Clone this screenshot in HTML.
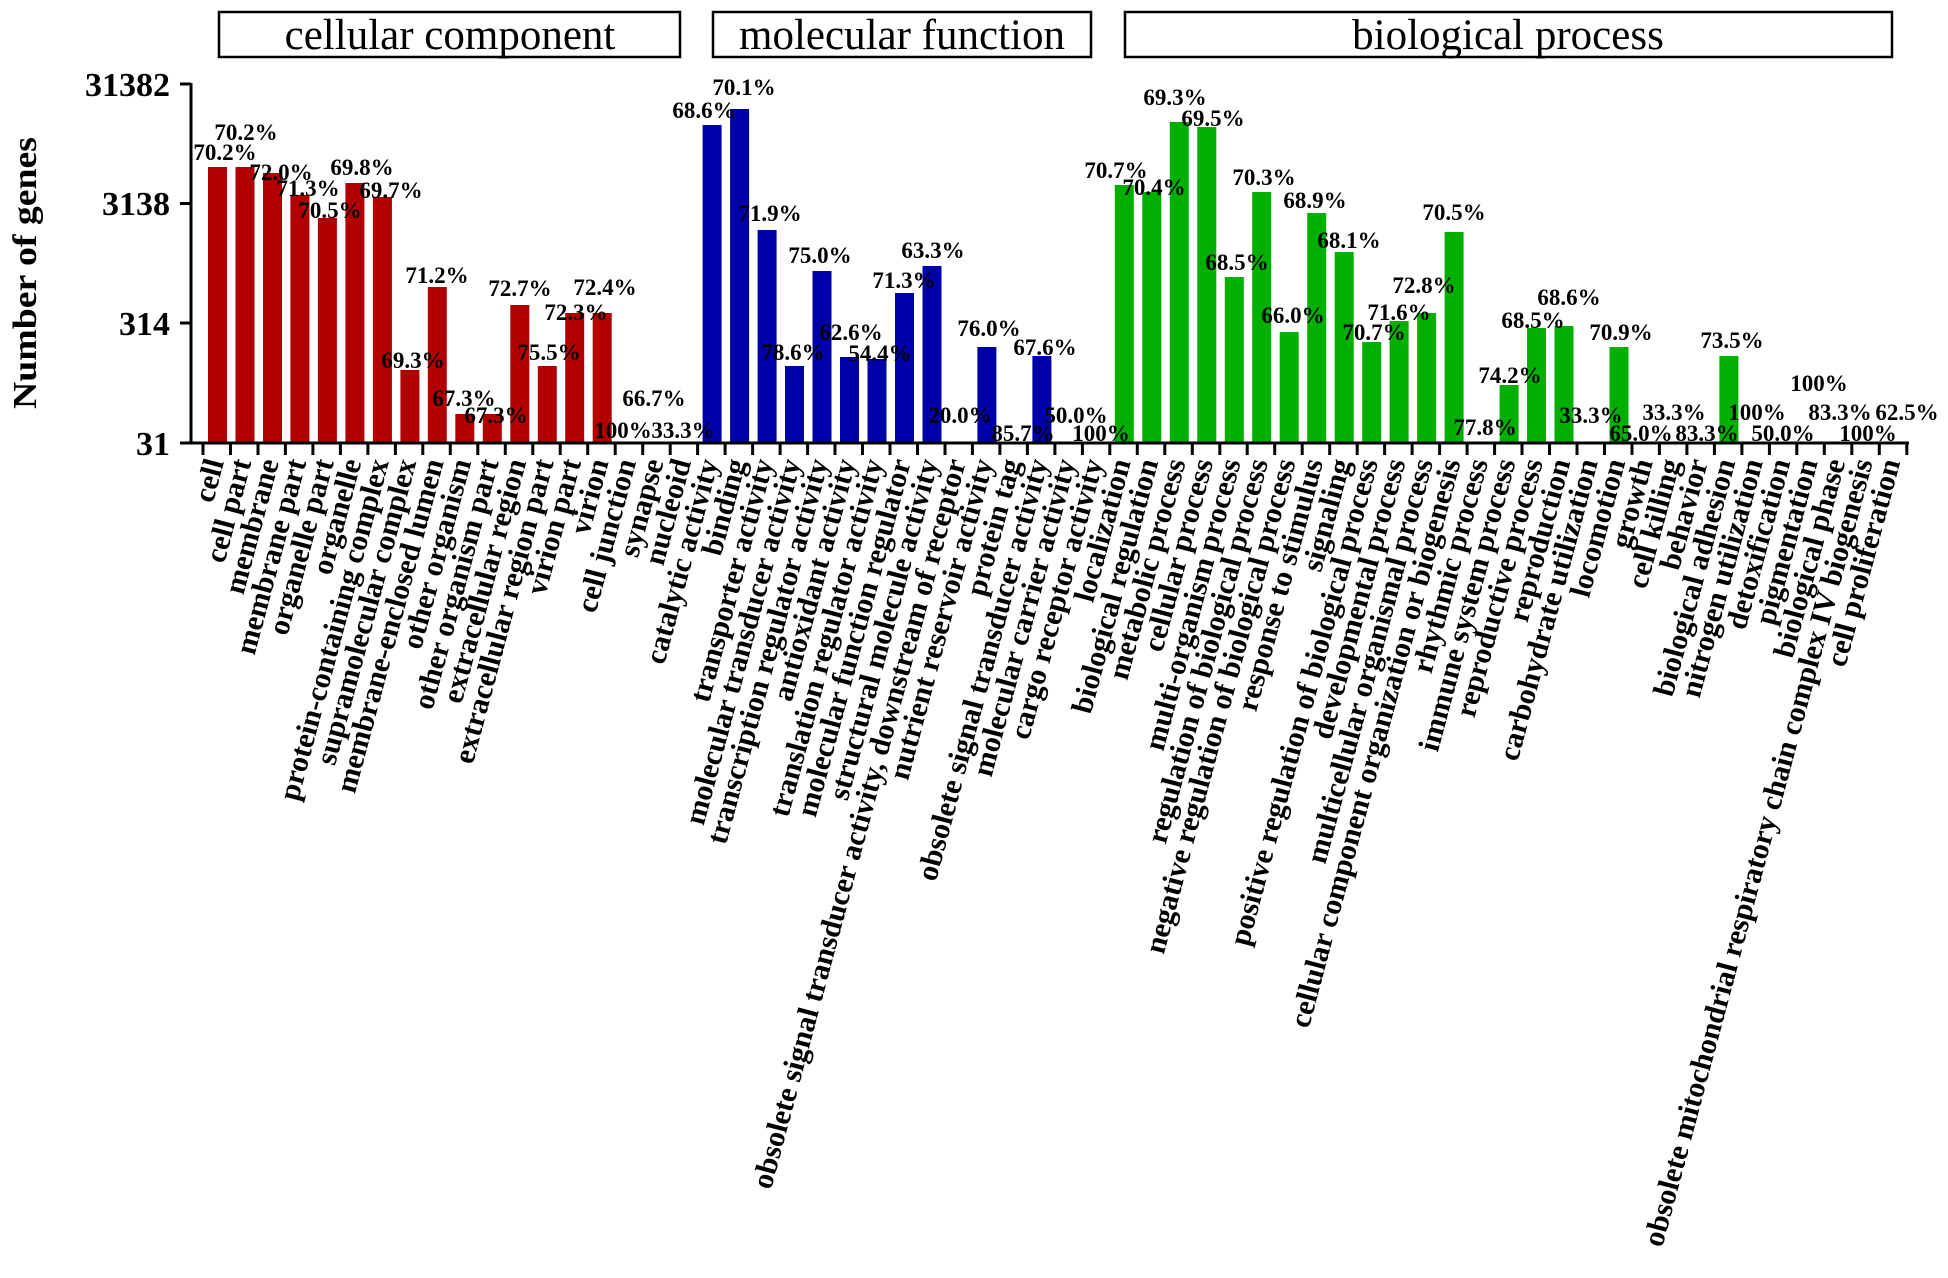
<!DOCTYPE html>
<html><head><meta charset="utf-8"><style>
html,body{margin:0;padding:0;background:#fff;}
svg{display:block;font-family:"Liberation Serif",serif;}
.p{font-size:23px;font-weight:bold;text-anchor:middle;}
.xl{font-size:30px;font-weight:bold;text-anchor:end;}
.yt{font-size:34px;font-weight:bold;text-anchor:end;}
.hd{font-size:43px;text-anchor:middle;}
</style></head><body>
<svg width="1948" height="1278" viewBox="0 0 1948 1278" xmlns="http://www.w3.org/2000/svg">
<rect x="219" y="12" width="461" height="45" fill="none" stroke="#000" stroke-width="2.5"/>
<text class="hd" x="450" y="49">cellular component</text>
<rect x="713" y="12" width="378" height="45" fill="none" stroke="#000" stroke-width="2.5"/>
<text class="hd" x="902" y="49">molecular function</text>
<rect x="1125" y="12" width="767" height="45" fill="none" stroke="#000" stroke-width="2.5"/>
<text class="hd" x="1508" y="49">biological process</text>

<text transform="translate(36,273) rotate(-90)" font-size="34" font-weight="bold" text-anchor="middle" textLength="272" lengthAdjust="spacingAndGlyphs">Number of genes</text>

<g fill="#b20000">
<rect x="208" y="167" width="19" height="276"/>
<rect x="235.5" y="167" width="19" height="276"/>
<rect x="263" y="173" width="19" height="270"/>
<rect x="290.4" y="195" width="19" height="248"/>
<rect x="317.9" y="218" width="19" height="225"/>
<rect x="345.4" y="183" width="19" height="260"/>
<rect x="372.9" y="197" width="19" height="246"/>
<rect x="400.4" y="370" width="19" height="73"/>
<rect x="427.8" y="287" width="19" height="156"/>
<rect x="455.3" y="414" width="19" height="29"/>
<rect x="482.8" y="414" width="19" height="29"/>
<rect x="510.3" y="305" width="19" height="138"/>
<rect x="537.8" y="366" width="19" height="77"/>
<rect x="565.2" y="313" width="19" height="130"/>
<rect x="592.7" y="313" width="19" height="130"/>
</g>
<g fill="#0000a8">
<rect x="702.6" y="125" width="19" height="318"/>
<rect x="730.1" y="109" width="19" height="334"/>
<rect x="757.6" y="230" width="19" height="213"/>
<rect x="785" y="366" width="19" height="77"/>
<rect x="812.5" y="271" width="19" height="172"/>
<rect x="840" y="357" width="19" height="86"/>
<rect x="867.5" y="359" width="19" height="84"/>
<rect x="895" y="293" width="19" height="150"/>
<rect x="922.5" y="266" width="19" height="177"/>
<rect x="977.4" y="347" width="19" height="96"/>
<rect x="1032.4" y="356" width="19" height="87"/>
</g>
<g fill="#00b000">
<rect x="1114.8" y="185" width="19" height="258"/>
<rect x="1142.3" y="192" width="19" height="251"/>
<rect x="1169.8" y="122" width="19" height="321"/>
<rect x="1197.3" y="127" width="19" height="316"/>
<rect x="1224.8" y="277" width="19" height="166"/>
<rect x="1252.2" y="192" width="19" height="251"/>
<rect x="1279.7" y="332" width="19" height="111"/>
<rect x="1307.2" y="213" width="19" height="230"/>
<rect x="1334.7" y="252" width="19" height="191"/>
<rect x="1362.2" y="342" width="19" height="101"/>
<rect x="1389.6" y="321" width="19" height="122"/>
<rect x="1417.1" y="313" width="19" height="130"/>
<rect x="1444.6" y="232" width="19" height="211"/>
<rect x="1499.6" y="385" width="19" height="58"/>
<rect x="1527" y="328" width="19" height="115"/>
<rect x="1554.5" y="326" width="19" height="117"/>
<rect x="1609.5" y="347" width="19" height="96"/>
<rect x="1719.4" y="356" width="19" height="87"/>
</g>

<g stroke="#000" stroke-width="3" fill="none">
<line x1="191" y1="83" x2="191" y2="444"/>
<line x1="189.5" y1="443" x2="1909" y2="443"/>
<line x1="180" y1="84" x2="191" y2="84"/>
<line x1="180" y1="203.5" x2="191" y2="203.5"/>
<line x1="180" y1="323" x2="191" y2="323"/>
<line x1="180" y1="443" x2="191" y2="443"/>
</g>
<g stroke="#000" stroke-width="3">
<line x1="203" y1="443" x2="203" y2="455"/><line x1="230.5" y1="443" x2="230.5" y2="455"/><line x1="258" y1="443" x2="258" y2="455"/><line x1="285.4" y1="443" x2="285.4" y2="455"/><line x1="312.9" y1="443" x2="312.9" y2="455"/><line x1="340.4" y1="443" x2="340.4" y2="455"/><line x1="367.9" y1="443" x2="367.9" y2="455"/><line x1="395.4" y1="443" x2="395.4" y2="455"/><line x1="422.8" y1="443" x2="422.8" y2="455"/><line x1="450.3" y1="443" x2="450.3" y2="455"/><line x1="477.8" y1="443" x2="477.8" y2="455"/><line x1="505.3" y1="443" x2="505.3" y2="455"/><line x1="532.8" y1="443" x2="532.8" y2="455"/><line x1="560.2" y1="443" x2="560.2" y2="455"/><line x1="587.7" y1="443" x2="587.7" y2="455"/><line x1="615.2" y1="443" x2="615.2" y2="455"/><line x1="642.7" y1="443" x2="642.7" y2="455"/><line x1="670.2" y1="443" x2="670.2" y2="455"/><line x1="697.6" y1="443" x2="697.6" y2="455"/><line x1="725.1" y1="443" x2="725.1" y2="455"/><line x1="752.6" y1="443" x2="752.6" y2="455"/><line x1="780.1" y1="443" x2="780.1" y2="455"/><line x1="807.6" y1="443" x2="807.6" y2="455"/><line x1="835" y1="443" x2="835" y2="455"/><line x1="862.5" y1="443" x2="862.5" y2="455"/><line x1="890" y1="443" x2="890" y2="455"/><line x1="917.5" y1="443" x2="917.5" y2="455"/><line x1="945" y1="443" x2="945" y2="455"/><line x1="972.4" y1="443" x2="972.4" y2="455"/><line x1="999.9" y1="443" x2="999.9" y2="455"/><line x1="1027.4" y1="443" x2="1027.4" y2="455"/><line x1="1054.9" y1="443" x2="1054.9" y2="455"/><line x1="1082.4" y1="443" x2="1082.4" y2="455"/><line x1="1109.8" y1="443" x2="1109.8" y2="455"/><line x1="1137.3" y1="443" x2="1137.3" y2="455"/><line x1="1164.8" y1="443" x2="1164.8" y2="455"/><line x1="1192.3" y1="443" x2="1192.3" y2="455"/><line x1="1219.8" y1="443" x2="1219.8" y2="455"/><line x1="1247.2" y1="443" x2="1247.2" y2="455"/><line x1="1274.7" y1="443" x2="1274.7" y2="455"/><line x1="1302.2" y1="443" x2="1302.2" y2="455"/><line x1="1329.7" y1="443" x2="1329.7" y2="455"/><line x1="1357.2" y1="443" x2="1357.2" y2="455"/><line x1="1384.6" y1="443" x2="1384.6" y2="455"/><line x1="1412.1" y1="443" x2="1412.1" y2="455"/><line x1="1439.6" y1="443" x2="1439.6" y2="455"/><line x1="1467.1" y1="443" x2="1467.1" y2="455"/><line x1="1494.6" y1="443" x2="1494.6" y2="455"/><line x1="1522" y1="443" x2="1522" y2="455"/><line x1="1549.5" y1="443" x2="1549.5" y2="455"/><line x1="1577" y1="443" x2="1577" y2="455"/><line x1="1604.5" y1="443" x2="1604.5" y2="455"/><line x1="1632" y1="443" x2="1632" y2="455"/><line x1="1659.4" y1="443" x2="1659.4" y2="455"/><line x1="1686.9" y1="443" x2="1686.9" y2="455"/><line x1="1714.4" y1="443" x2="1714.4" y2="455"/><line x1="1741.9" y1="443" x2="1741.9" y2="455"/><line x1="1769.4" y1="443" x2="1769.4" y2="455"/><line x1="1796.8" y1="443" x2="1796.8" y2="455"/><line x1="1824.3" y1="443" x2="1824.3" y2="455"/><line x1="1851.8" y1="443" x2="1851.8" y2="455"/><line x1="1879.3" y1="443" x2="1879.3" y2="455"/><line x1="1906.8" y1="443" x2="1906.8" y2="455"/>
</g>

<text class="yt" x="170" y="96">31382</text>
<text class="yt" x="170" y="215">3138</text>
<text class="yt" x="170" y="335">314</text>
<text class="yt" x="170" y="455">31</text>

<g class="p">
<text x="225" y="160">70.2%</text>
<text x="246" y="140">70.2%</text>
<text x="281" y="180">72.0%</text>
<text x="308" y="196">71.3%</text>
<text x="330" y="218">70.5%</text>
<text x="362" y="175">69.8%</text>
<text x="391" y="198">69.7%</text>
<text x="413" y="368">69.3%</text>
<text x="437" y="283">71.2%</text>
<text x="464" y="406">67.3%</text>
<text x="496" y="423">67.3%</text>
<text x="520" y="296">72.7%</text>
<text x="549" y="360">75.5%</text>
<text x="576" y="320">72.3%</text>
<text x="605" y="295">72.4%</text>
<text x="623" y="438">100%</text>
<text x="654" y="406">66.7%</text>
<text x="683" y="438">33.3%</text>
<text x="704" y="118">68.6%</text>
<text x="744" y="95">70.1%</text>
<text x="770" y="221">71.9%</text>
<text x="820" y="263">75.0%</text>
<text x="793" y="360">78.6%</text>
<text x="851" y="340">62.6%</text>
<text x="880" y="361">54.4%</text>
<text x="904" y="288">71.3%</text>
<text x="933" y="258">63.3%</text>
<text x="960" y="423">20.0%</text>
<text x="989" y="336">76.0%</text>
<text x="1023" y="441">85.7%</text>
<text x="1045" y="355">67.6%</text>
<text x="1076" y="423">50.0%</text>
<text x="1101" y="441">100%</text>
<text x="1116" y="178">70.7%</text>
<text x="1154" y="195">70.4%</text>
<text x="1175" y="105">69.3%</text>
<text x="1213" y="126">69.5%</text>
<text x="1264" y="185">70.3%</text>
<text x="1237" y="270">68.5%</text>
<text x="1293" y="323">66.0%</text>
<text x="1315" y="208">68.9%</text>
<text x="1349" y="248">68.1%</text>
<text x="1424" y="293">72.8%</text>
<text x="1399" y="320">71.6%</text>
<text x="1374" y="340">70.7%</text>
<text x="1454" y="220">70.5%</text>
<text x="1485" y="435">77.8%</text>
<text x="1510" y="383">74.2%</text>
<text x="1533" y="328">68.5%</text>
<text x="1569" y="305">68.6%</text>
<text x="1591" y="423">33.3%</text>
<text x="1621" y="340">70.9%</text>
<text x="1641" y="441">65.0%</text>
<text x="1674" y="420">33.3%</text>
<text x="1707" y="441">83.3%</text>
<text x="1732" y="348">73.5%</text>
<text x="1757" y="420">100%</text>
<text x="1783" y="441">50.0%</text>
<text x="1819" y="391">100%</text>
<text x="1840" y="420">83.3%</text>
<text x="1868" y="441">100%</text>
<text x="1907" y="420">62.5%</text>
</g>

<g class="xl">
<text transform="translate(224,462) rotate(-75)">cell</text>
<text transform="translate(251.5,462) rotate(-75)">cell part</text>
<text transform="translate(279,462) rotate(-75)">membrane</text>
<text transform="translate(306.4,462) rotate(-75)">membrane part</text>
<text transform="translate(333.9,462) rotate(-75)">organelle part</text>
<text transform="translate(361.4,462) rotate(-75)">organelle</text>
<text transform="translate(388.9,462) rotate(-75)">protein-containing complex</text>
<text transform="translate(416.4,462) rotate(-75)">supramolecular complex</text>
<text transform="translate(443.8,462) rotate(-75)">membrane-enclosed lumen</text>
<text transform="translate(471.3,462) rotate(-75)">other organism</text>
<text transform="translate(498.8,462) rotate(-75)">other organism part</text>
<text transform="translate(526.3,462) rotate(-75)">extracellular region</text>
<text transform="translate(553.8,462) rotate(-75)">extracellular region part</text>
<text transform="translate(581.2,462) rotate(-75)">virion part</text>
<text transform="translate(608.7,462) rotate(-75)">virion</text>
<text transform="translate(636.2,462) rotate(-75)">cell junction</text>
<text transform="translate(663.7,462) rotate(-75)">synapse</text>
<text transform="translate(691.2,462) rotate(-75)">nucleoid</text>
<text transform="translate(718.6,462) rotate(-75)">catalytic activity</text>
<text transform="translate(746.1,462) rotate(-75)">binding</text>
<text transform="translate(773.6,462) rotate(-75)">transporter activity</text>
<text transform="translate(801.1,462) rotate(-75)">molecular transducer activity</text>
<text transform="translate(828.6,462) rotate(-75)">transcription regulator activity</text>
<text transform="translate(856,462) rotate(-75)">antioxidant activity</text>
<text transform="translate(883.5,462) rotate(-75)">translation regulator activity</text>
<text transform="translate(911,462) rotate(-75)">molecular function regulator</text>
<text transform="translate(938.5,462) rotate(-75)">structural molecule activity</text>
<text transform="translate(966,462) rotate(-75)">obsolete signal transducer activity, downstream of receptor</text>
<text transform="translate(993.4,462) rotate(-75)">nutrient reservoir activity</text>
<text transform="translate(1020.9,462) rotate(-75)">protein tag</text>
<text transform="translate(1048.4,462) rotate(-75)">obsolete signal transducer activity</text>
<text transform="translate(1075.9,462) rotate(-75)">molecular carrier activity</text>
<text transform="translate(1103.4,462) rotate(-75)">cargo receptor activity</text>
<text transform="translate(1130.8,462) rotate(-75)">localization</text>
<text transform="translate(1158.3,462) rotate(-75)">biological regulation</text>
<text transform="translate(1185.8,462) rotate(-75)">metabolic process</text>
<text transform="translate(1213.3,462) rotate(-75)">cellular process</text>
<text transform="translate(1240.8,462) rotate(-75)">multi-organism process</text>
<text transform="translate(1268.2,462) rotate(-75)">regulation of biological process</text>
<text transform="translate(1295.7,462) rotate(-75)">negative regulation of biological process</text>
<text transform="translate(1323.2,462) rotate(-75)">response to stimulus</text>
<text transform="translate(1350.7,462) rotate(-75)">signaling</text>
<text transform="translate(1378.2,462) rotate(-75)">positive regulation of biological process</text>
<text transform="translate(1405.6,462) rotate(-75)">developmental process</text>
<text transform="translate(1433.1,462) rotate(-75)">multicellular organismal process</text>
<text transform="translate(1460.6,462) rotate(-75)">cellular component organization or biogenesis</text>
<text transform="translate(1488.1,462) rotate(-75)">rhythmic process</text>
<text transform="translate(1515.6,462) rotate(-75)">immune system process</text>
<text transform="translate(1543,462) rotate(-75)">reproductive process</text>
<text transform="translate(1570.5,462) rotate(-75)">reproduction</text>
<text transform="translate(1598,462) rotate(-75)">carbohydrate utilization</text>
<text transform="translate(1625.5,462) rotate(-75)">locomotion</text>
<text transform="translate(1653,462) rotate(-75)">growth</text>
<text transform="translate(1680.4,462) rotate(-75)">cell killing</text>
<text transform="translate(1707.9,462) rotate(-75)">behavior</text>
<text transform="translate(1735.4,462) rotate(-75)">biological adhesion</text>
<text transform="translate(1762.9,462) rotate(-75)">nitrogen utilization</text>
<text transform="translate(1790.4,462) rotate(-75)">detoxification</text>
<text transform="translate(1817.8,462) rotate(-75)">pigmentation</text>
<text transform="translate(1845.3,462) rotate(-75)">biological phase</text>
<text transform="translate(1872.8,462) rotate(-75)">obsolete mitochondrial respiratory chain complex IV biogenesis</text>
<text transform="translate(1900.3,462) rotate(-75)">cell proliferation</text>
</g>
</svg>
</body></html>
